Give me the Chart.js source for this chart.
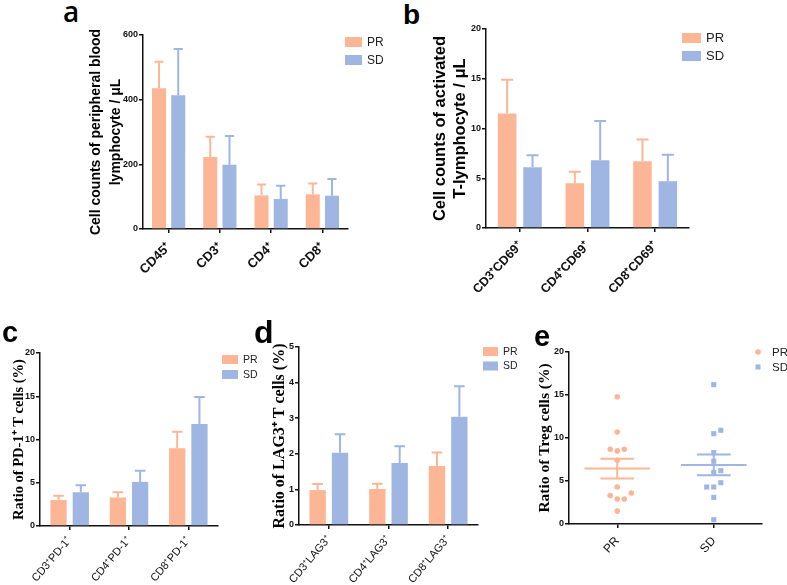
<!DOCTYPE html>
<html>
<head>
<meta charset="utf-8">
<script src="https://cdn.jsdelivr.net/npm/chart.js@4.4.0/dist/chart.umd.min.js"></script>
<style>
body { margin: 0; background: #fff; }
#wrap { position: relative; width: 787px; height: 585px; overflow: hidden; }
canvas { position: absolute; }
.tag { position: absolute; font-family: Arial, "Liberation Sans", sans-serif; font-weight: bold; line-height: 1; color: #000; }
</style>
</head>
<body>
<div id="wrap">
  <canvas id="chartA" style="left:85px;top:20px" width="310" height="270"></canvas>
  <canvas id="chartB" style="left:425px;top:10px" width="355" height="285"></canvas>
  <canvas id="chartC" style="left:5px;top:300px" width="253" height="285"></canvas>
  <canvas id="chartD" style="left:263px;top:300px" width="255" height="285"></canvas>
  <canvas id="chartE" style="left:530px;top:300px" width="257" height="285"></canvas>
  <div class="tag" style="left:63px;top:-3px;font-family:'Open Sans';font-weight:600;font-size:28px">a</div>
  <div class="tag" style="left:403px;top:1px;font-size:28px">b</div>
  <div class="tag" style="left:2px;top:318px;font-size:29px">c</div>
  <div class="tag" style="left:254px;top:316px;font-size:32px">d</div>
  <div class="tag" style="left:534px;top:322px;font-size:29px">e</div>
</div>
<script>
// a: lymphocyte counts
const cellsA = ['CD45⁺', 'CD3⁺', 'CD4⁺', 'CD8⁺'];
const prA = [435, 223, 104, 107];
const prErrA = [82, 62, 34, 34];
const sdA = [414, 199, 93, 103];
const sdErrA = [143, 89, 41, 52];

// b: activated T cells
const cellsB = ['CD3⁺CD69⁺', 'CD4⁺CD69⁺', 'CD8⁺CD69⁺'];
const prB = [11.5, 4.5, 6.7];
const prErrB = [3.4, 1.15, 2.2];
const sdB = [6.1, 6.8, 4.7];
const sdErrB = [1.2, 3.95, 2.65];

// c: PD-1
const cellsC = ['CD3⁺PD-1⁺', 'CD4⁺PD-1⁺', 'CD8⁺PD-1⁺'];
const prC = [3.0, 3.3, 9.0];
const prErrC = [0.5, 0.6, 1.9];
const sdC = [3.9, 5.1, 11.8];
const sdErrC = [0.8, 1.3, 3.1];

// d: LAG3
const cellsD = ['CD3⁺LAG3⁺', 'CD4⁺LAG3⁺', 'CD8⁺LAG3⁺'];
const prD = [0.98, 1.01, 1.66];
const prErrD = [0.17, 0.15, 0.38];
const sdD = [2.03, 1.74, 3.04];
const sdErrD = [0.52, 0.47, 0.86];

// e: Treg, one value per patient
const tregGroups = ['PR', 'SD'];
const tregPR = [14.8, 10.7, 8.5, 8.7, 8.7, 7.4, 4.3, 2.9, 2.9, 3.3, 3.6, 1.5];
const tregSD = [16.2, 10.5, 10.9, 8.3, 7.3, 6.0, 6.2, 4.3, 4.8, 4.3, 3.1, 0.5];

const prColor = 'rgb(252,182,150)';
const sdColor = 'rgb(159,182,226)';
const sans = 'Arial, "Liberation Sans", sans-serif';
const serif = '"Times New Roman", "Liberation Serif", serif';

// one-sided error bars on top of each bar
const errorBars = {
  id: 'errorBars',
  afterDatasetsDraw(chart, args, opts) {
    const ctx = chart.ctx;
    const y = chart.scales.y;
    chart.data.datasets.forEach((ds, i) => {
      if (!ds.errors) return;
      chart.getDatasetMeta(i).data.forEach((bar, j) => {
        const top = y.getPixelForValue(ds.data[j] + ds.errors[j]);
        const half = bar.width * opts.cap / 2;
        ctx.save();
        ctx.strokeStyle = ds.backgroundColor;
        ctx.lineWidth = opts.lineWidth;
        ctx.beginPath();
        ctx.moveTo(bar.x, bar.y);
        ctx.lineTo(bar.x, top);
        ctx.moveTo(bar.x - half, top);
        ctx.lineTo(bar.x + half, top);
        ctx.stroke();
        ctx.restore();
      });
    });
  }
};

// small legend at the top right of the plot
const sideLegend = {
  id: 'sideLegend',
  afterDraw(chart, args, o) {
    const { ctx, chartArea } = chart;
    ctx.save();
    ctx.font = o.font;
    ctx.textBaseline = 'middle';
    chart.data.datasets.forEach((ds, i) => {
      const x = chartArea.right + o.dx;
      const y = chartArea.top + o.dy + i * o.gap;
      ctx.fillStyle = ds.backgroundColor;
      if (o.marker) {
        const cx = x + o.w / 2, cy = y + o.h / 2;
        if (ds.pointStyle === 'rect') ctx.fillRect(cx - 2.5, cy - 2.5, 5, 5);
        else { ctx.beginPath(); ctx.arc(cx, cy, 2.8, 0, Math.PI * 2); ctx.fill(); }
      } else {
        ctx.fillRect(x, y, o.w, o.h);
      }
      ctx.fillStyle = '#222';
      ctx.fillText(ds.label, x + o.w + o.textGap, y + o.h / 2 + 0.5);
    });
    ctx.restore();
  }
};

// mean line with SEM whiskers for the dot plot
const meanSem = {
  id: 'meanSem',
  afterDatasetsDraw(chart, args, o) {
    const { ctx, scales: { x, y } } = chart;
    chart.data.datasets.forEach((ds, i) => {
      const vals = ds.data.map(p => p.y);
      const n = vals.length;
      const mean = vals.reduce((a, b) => a + b, 0) / n;
      const sd = Math.sqrt(vals.reduce((a, b) => a + (b - mean) ** 2, 0) / (n - 1));
      const sem = sd / Math.sqrt(n);
      const c = i + 1;
      const yMean = y.getPixelForValue(mean);
      const yHi = y.getPixelForValue(mean + sem);
      const yLo = y.getPixelForValue(mean - sem);
      ctx.save();
      ctx.strokeStyle = ds.backgroundColor;
      ctx.lineWidth = 2;
      ctx.beginPath();
      ctx.moveTo(x.getPixelForValue(c - o.meanHalf), yMean);
      ctx.lineTo(x.getPixelForValue(c + o.meanHalf), yMean);
      ctx.moveTo(x.getPixelForValue(c - o.capHalf), yHi);
      ctx.lineTo(x.getPixelForValue(c + o.capHalf), yHi);
      ctx.moveTo(x.getPixelForValue(c - o.capHalf), yLo);
      ctx.lineTo(x.getPixelForValue(c + o.capHalf), yLo);
      ctx.moveTo(x.getPixelForValue(c), yHi);
      ctx.lineTo(x.getPixelForValue(c), yLo);
      ctx.stroke();
      ctx.restore();
    });
  }
};

// spread equal values sideways like the original dot plot
function swarm(values, step) {
  const placed = [];
  return values.map(v => {
    for (const k of [0, 1, -1, 2, -2, 3, -3]) {
      if (!placed.some(p => p.k === k && Math.abs(p.v - v) < 0.75)) {
        placed.push({ v, k });
        return k * step;
      }
    }
    return 0;
  });
}

function axisLines() {
  return {
    grid: { drawOnChartArea: false, tickLength: 4, color: '#111', lineWidth: 1.5 },
    border: { color: '#111', width: 1.5 }
  };
}

const yTickFont = { family: sans, size: 9, weight: 'bold' };

function barPanel(id, labels, pr, prErr, sd, sdErr, cfg) {
  return new Chart(document.getElementById(id), {
    type: 'bar',
    data: {
      labels: labels,
      datasets: [
        { label: 'PR', data: pr, errors: prErr, backgroundColor: prColor, categoryPercentage: 0.75, barPercentage: 0.73 },
        { label: 'SD', data: sd, errors: sdErr, backgroundColor: sdColor, categoryPercentage: 0.75, barPercentage: 0.73 }
      ]
    },
    options: {
      responsive: false,
      animation: false,
      layout: { padding: cfg.pad },
      plugins: {
        legend: { display: false },
        tooltip: { enabled: false },
        sideLegend: cfg.legend,
        errorBars: { cap: 0.65, lineWidth: 2 }
      },
      scales: {
        x: {
          ...axisLines(),
          grid: { ...axisLines().grid, offset: false },
          afterFit: s => { s.height = cfg.xHeight; },
          ticks: { autoSkip: false, minRotation: cfg.rot, maxRotation: cfg.rot, padding: cfg.xPad, color: '#111', font: cfg.xFont }
        },
        y: {
          ...axisLines(),
          min: 0,
          max: cfg.max,
          afterFit: s => { s.width = cfg.yWidth; },
          ticks: { stepSize: cfg.step, padding: 1, color: '#111', font: yTickFont },
          title: { display: true, text: cfg.title, color: '#000', font: cfg.titleFont, padding: { top: cfg.titlePad, bottom: 0 } }
        }
      }
    },
    plugins: [errorBars, sideLegend]
  });
}

barPanel('chartA', cellsA, prA, prErrA, sdA, sdErrA, {
  pad: { top: 15, right: 47, bottom: 0, left: 0 },
  xHeight: 61, yWidth: 58, max: 600, step: 200, rot: 45, xPad: 7,
  xFont: { family: sans, size: 13, weight: 'bold' },
  title: ['Cell counts of peripheral blood', 'lymphocyte / μL'],
  titleFont: { family: sans, size: 14, weight: 'bold', lineHeight: 1.45 }, titlePad: 1,
  legend: { dx: -3, dy: 2, w: 17, h: 10, gap: 18, textGap: 5, font: '12px ' + sans }
});

barPanel('chartB', cellsB, prB, prErrB, sdB, sdErrB, {
  pad: { top: 19, right: 91, bottom: 0, left: 0 },
  xHeight: 67, yWidth: 61, max: 20, step: 5, rot: 47, xPad: 7,
  xFont: { family: sans, size: 12.5, weight: 'bold' },
  title: ['Cell counts of activated', 'T-lymphocyte / μL'],
  titleFont: { family: sans, size: 16.5, weight: 'bold', lineHeight: 1.22 }, titlePad: 5,
  legend: { dx: -7, dy: 4, w: 19, h: 10, gap: 18, textGap: 5, font: '13px ' + sans }
});

barPanel('chartC', cellsC, prC, prErrC, sdC, sdErrC, {
  pad: { top: 53, right: 40, bottom: 0, left: 0 },
  xHeight: 59, yWidth: 35, max: 20, step: 5, rot: 50, xPad: 4,
  xFont: { family: sans, size: 11 },
  title: 'Ratio of PD-1⁺ T cells (%)',
  titleFont: { family: serif, size: 14.5, weight: 'bold', lineHeight: 1.2 }, titlePad: 6,
  legend: { dx: 4, dy: 2, w: 16, h: 9, gap: 15, textGap: 5, font: '10.5px ' + sans }
});

barPanel('chartD', cellsD, prD, prErrD, sdD, sdErrD, {
  pad: { top: 47, right: 40, bottom: 0, left: 0 },
  xHeight: 60, yWidth: 36, max: 5, step: 1, rot: 50, xPad: 4,
  xFont: { family: sans, size: 11 },
  title: 'Ratio of LAG3⁺ T cells (%)',
  titleFont: { family: serif, size: 16, weight: 'bold', lineHeight: 1.2 }, titlePad: 7,
  legend: { dx: 5, dy: 0, w: 15, h: 9, gap: 14.5, textGap: 5, font: '10.5px ' + sans }
});

const jitterPR = swarm(tregPR, 0.073);
const jitterSD = swarm(tregSD, 0.073);

new Chart(document.getElementById('chartE'), {
  type: 'scatter',
  data: {
    datasets: [
      { label: 'PR', data: tregPR.map((v, i) => ({ x: 1 + jitterPR[i], y: v })), backgroundColor: prColor, pointStyle: 'circle', pointRadius: 2.8, pointBorderWidth: 0 },
      { label: 'SD', data: tregSD.map((v, i) => ({ x: 2 + jitterSD[i], y: v })), backgroundColor: sdColor, pointStyle: 'rect', pointRadius: 3.6, pointBorderWidth: 0 }
    ]
  },
  options: {
    responsive: false,
    animation: false,
    layout: { padding: { top: 52, right: 25, bottom: 0, left: 0 } },
    plugins: {
      legend: { display: false },
      tooltip: { enabled: false },
      sideLegend: { marker: true, dx: -8, dy: -4, w: 8, h: 8, gap: 15, textGap: 10, font: '11.5px ' + sans },
      meanSem: { meanHalf: 0.34, capHalf: 0.175 }
    },
    scales: {
      x: {
        ...axisLines(),
        min: 0.5,
        max: 2.5,
        afterBuildTicks: s => { s.ticks = tregGroups.map((g, i) => ({ value: i + 1 })); },
        afterFit: s => { s.height = 61; },
        ticks: { autoSkip: false, minRotation: 48, maxRotation: 48, padding: 6, color: '#111', font: { family: sans, size: 12 }, callback: v => tregGroups[v - 1] }
      },
      y: {
        ...axisLines(),
        min: 0,
        max: 20,
        afterFit: s => { s.width = 39; },
        ticks: { stepSize: 5, padding: 1, color: '#111', font: yTickFont },
        title: { display: true, text: 'Ratio of Treg cells (%)', color: '#000', font: { family: serif, size: 15.5, weight: 'bold', lineHeight: 1.2 }, padding: { top: 6, bottom: 0 } }
      }
    }
  },
  plugins: [meanSem, sideLegend]
});
</script>
</body>
</html>
